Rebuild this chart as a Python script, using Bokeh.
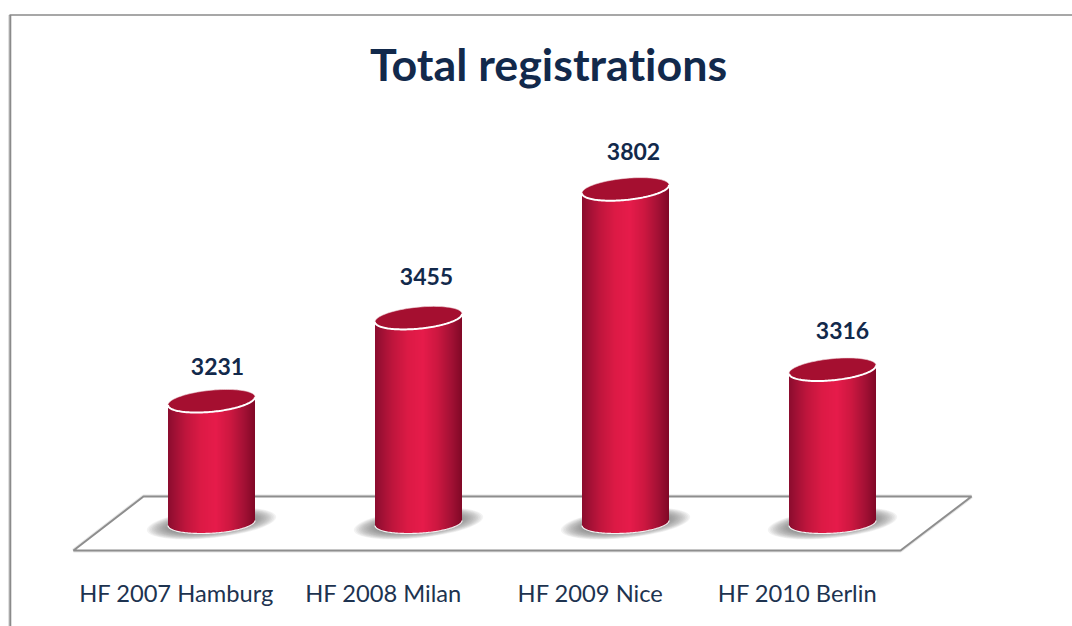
import numpy as np
from bokeh.plotting import figure
from bokeh.embed import file_html
from bokeh.resources import INLINE
from bokeh.core.properties import value

categories = ["HF 2007 Hamburg", "HF 2008 Milan", "HF 2009 Nice", "HF 2010 Berlin"]
registrations = [3231, 3455, 3802, 3316]
title_text = "Total registrations"

W, H = 1072, 626
OX, OY = 0, 0
PX_PER_CAT = 207.0
PX_PER_VAL = 0.371
X0_SCREEN, Y0_SCREEN, Y0_VAL = 211.0, 400.5, 3231.0
BASE_VAL = Y0_VAL - (522.5 - Y0_SCREEN) / PX_PER_VAL


def dx(sx):
    return (np.asarray(sx, dtype=float) - X0_SCREEN) / PX_PER_CAT


def dy(sy):
    return Y0_VAL - (np.asarray(sy, dtype=float) - Y0_SCREEN) / PX_PER_VAL


p = figure(width=W, height=H, output_backend="svg", toolbar_location=None,
           x_range=(float(dx(OX)), float(dx(OX + W))),
           y_range=(float(dy(OY + H)), float(dy(OY))),
           min_border=0, outline_line_color=None, background_fill_color="white")
p.axis.visible = False
p.grid.visible = False

# outer frame
p.line(dx([9.5, 9.5]), dy([700, 14.5]), line_color="#c4c4c4", line_width=3)
p.line(dx([9.8, 9.8]), dy([700, 14.5]), line_color="#8a8a8a", line_width=1.5)
p.line(dx([9, 1100]), dy([14.5, 14.5]), line_color="#8a8a8a", line_width=1.5)

# platform
plat_x = [73, 900, 971, 143, 73]
plat_y = [550, 550, 496, 496, 550]
p.patch(dx(plat_x), dy(plat_y), fill_color="white", line_color="#e6e6e6", line_width=4)
p.patch(dx(plat_x), dy(plat_y), fill_color="white", line_color="#8e8e8e", line_width=2)

# gradient of a cylinder's side
stops_t = [0.0, 0.06, 0.2, 0.38, 0.55, 0.72, 0.88, 1.0]
stops_c = np.array([[0x8a, 0x0c, 0x2e], [0x9a, 0x0f, 0x33], [0xbe, 0x15, 0x3c], [0xdc, 0x1a, 0x45],
                    [0xe6, 0x1b, 0x4a], [0xcc, 0x17, 0x40], [0xa2, 0x10, 0x34], [0x80, 0x08, 0x26]])


def shade(t):
    c = [int(round(np.interp(t, stops_t, stops_c[:, k]))) for k in range(3)]
    return "#%02x%02x%02x" % tuple(c)


A = 43.5           # half width in px
TOP_B, TOP_S = 10.8, -0.093
BOT_B, BOT_S = 10.2, -0.057
STEP = 1.0

for i, v in enumerate(registrations):
    cx = i
    off = np.arange(-A, A, STEP)
    mid = off + STEP / 2
    # soft contact shadow
    n = 16
    for k in range(n):
        f = k / (n - 1)
        p.ellipse(x=[cx + 0.0], y=[dy(523.0)], width=130 - 50 * f, height=29 - 14 * f,
                  width_units="screen", height_units="screen", angle=6, angle_units="deg",
                  fill_color="#707070", fill_alpha=0.085, line_color=None)
    # side of the cylinder, one narrow strip per shade
    top_edge = v - (TOP_S * mid) / PX_PER_VAL
    arc = BOT_B * np.sqrt(np.clip(1 - (mid / A) ** 2, 0, 1))
    bot_edge = BASE_VAL - (BOT_S * mid + arc) / PX_PER_VAL
    lefts = cx + off / PX_PER_CAT
    rights = cx + (off + STEP + 0.5) / PX_PER_CAT
    rights[-1] = cx + A / PX_PER_CAT
    cols = [shade((m + A) / (2 * A)) for m in mid]
    p.quad(left=lefts, right=rights, top=top_edge, bottom=bot_edge, fill_color=cols, line_color=None)
    # edges
    th = np.linspace(0, np.pi, 80)
    ax = A * np.cos(th)
    # bottom rim
    by = BASE_VAL - (BOT_S * ax + BOT_B * np.sin(th)) / PX_PER_VAL
    p.line(cx + ax / PX_PER_CAT, by, line_color="#f4f4f4", line_width=1.2)
    # top face
    th2 = np.linspace(0, 2 * np.pi, 120)
    tx = A * np.cos(th2)
    ty = v - (TOP_S * tx - TOP_B * np.sin(th2)) / PX_PER_VAL
    p.patch(cx + tx / PX_PER_CAT, ty, fill_color="#a50f30", line_color="#f0d8dc", line_width=0.6)
    # front rim of the top
    fy = v - (TOP_S * ax + TOP_B * np.sin(th)) / PX_PER_VAL
    p.line(cx + ax / PX_PER_CAT, fy, line_color="white", line_width=2)

# value labels
p.text(x=list(range(4)), y=[dy(400.5 - 35) + (v - Y0_VAL) for v in registrations],
       text=[str(v) for v in registrations], text_font=value("Lato"), text_font_style="bold",
       text_font_size="23px", text_color="#12294b", text_align="center", text_baseline="middle",
       x_offset=[6, 8, 8, 10], y_offset=[0, -6, -3, -4])

# category labels
p.text(x=list(np.arange(4) - 35 / PX_PER_CAT), y=[dy(592)] * 4, text=categories,
       text_font=value("Lato"), text_font_size="23.7px", text_color="#1d3350",
       text_align="center", text_baseline="middle")

# title
p.text(x=[dx(548.5)], y=[dy(63)], text=[title_text], text_font=value("Lato"), text_font_style="bold",
       text_font_size="44.8px", text_color="#12294b", text_align="center", text_baseline="middle")

html = file_html(p, INLINE)
html = html.replace("</head>", "<style>body{font-variant-ligatures:none}</style></head>", 1)
open("out.html", "w").write(html)
